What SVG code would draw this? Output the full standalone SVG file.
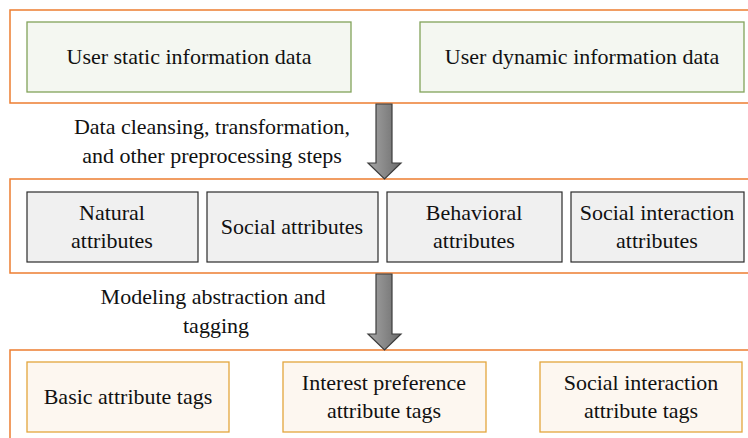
<svg xmlns="http://www.w3.org/2000/svg" width="748" height="438" viewBox="0 0 748 438">
  <style>
    .panel { fill: #ffffff; stroke: #ED7D31; stroke-width: 1.5; }
    .src { fill: #F4F7F1; stroke: #82A35A; stroke-width: 1.3; }
    .attr { fill: #F0F0F0; stroke: #2b2b2b; stroke-width: 1.2; }
    .tag { fill: #FDF7F0; stroke: #E3A63C; stroke-width: 1.3; }
    .arrow { fill: url(#shade); stroke: #3c3c3c; stroke-width: 1.2; }
  </style>
  <defs>
    <linearGradient id="shade" x1="0" y1="0" x2="1" y2="0">
      <stop offset="0" stop-color="#a6a6a6"/>
      <stop offset="1" stop-color="#6b6b6b"/>
    </linearGradient>
  </defs>

  <!-- stage panels -->
  <rect class="panel" x="10" y="10" width="760" height="93"/>
  <rect class="panel" x="10" y="179" width="760" height="94"/>
  <rect class="panel" x="10" y="350" width="760" height="110"/>

  <!-- input data -->
  <g id="static-data">
    <rect class="src" x="27" y="22" width="324" height="70"/>
    <text x="189" y="64" font-family="Liberation Serif" font-size="22" fill="#111" text-anchor="middle">User static information data</text>
  </g>
  <g id="dynamic-data">
    <rect class="src" x="420" y="22" width="324" height="70"/>
    <text x="582" y="64" font-family="Liberation Serif" font-size="22" fill="#111" text-anchor="middle">User dynamic information data</text>
  </g>

  <!-- attribute extraction -->
  <g id="natural">
    <rect class="attr" x="27" y="192" width="171" height="70"/>
    <text x="112" y="220" font-family="Liberation Serif" font-size="22" fill="#111" text-anchor="middle">Natural</text>
    <text x="112" y="248" font-family="Liberation Serif" font-size="22" fill="#111" text-anchor="middle">attributes</text>
  </g>
  <g id="social">
    <rect class="attr" x="207" y="192" width="171" height="70"/>
    <text x="292" y="234" font-family="Liberation Serif" font-size="22" fill="#111" text-anchor="middle">Social attributes</text>
  </g>
  <g id="behavioral">
    <rect class="attr" x="387" y="192" width="175" height="70"/>
    <text x="474" y="220" font-family="Liberation Serif" font-size="22" fill="#111" text-anchor="middle">Behavioral</text>
    <text x="474" y="248" font-family="Liberation Serif" font-size="22" fill="#111" text-anchor="middle">attributes</text>
  </g>
  <g id="social-interaction">
    <rect class="attr" x="571" y="192" width="173" height="70"/>
    <text x="657" y="220" font-family="Liberation Serif" font-size="22" fill="#111" text-anchor="middle">Social interaction</text>
    <text x="657" y="248" font-family="Liberation Serif" font-size="22" fill="#111" text-anchor="middle">attributes</text>
  </g>

  <!-- tag outputs -->
  <g id="basic-tags">
    <rect class="tag" x="27" y="362" width="202" height="70"/>
    <text x="128" y="404" font-family="Liberation Serif" font-size="22" fill="#111" text-anchor="middle">Basic attribute tags</text>
  </g>
  <g id="interest-tags">
    <rect class="tag" x="283" y="362" width="203" height="70"/>
    <text x="384" y="390" font-family="Liberation Serif" font-size="22" fill="#111" text-anchor="middle">Interest preference</text>
    <text x="384" y="418" font-family="Liberation Serif" font-size="22" fill="#111" text-anchor="middle">attribute tags</text>
  </g>
  <g id="interaction-tags">
    <rect class="tag" x="540" y="362" width="202" height="70"/>
    <text x="641" y="390" font-family="Liberation Serif" font-size="22" fill="#111" text-anchor="middle">Social interaction</text>
    <text x="641" y="418" font-family="Liberation Serif" font-size="22" fill="#111" text-anchor="middle">attribute tags</text>
  </g>

  <!-- flow arrows between stages -->
  <g id="connectors">
    <path class="arrow" d="M376,104 H392 V163 H401 L384.5,179 L368,163 H376 Z"/>
    <text x="212" y="134" font-family="Liberation Serif" font-size="22" fill="#111" text-anchor="middle">Data cleansing, transformation,</text>
    <text x="212" y="163" font-family="Liberation Serif" font-size="22" fill="#111" text-anchor="middle">and other preprocessing steps</text>
    <path class="arrow" d="M376,274 H392 V334 H401 L384.5,350 L368,334 H376 Z"/>
    <text x="213" y="304" font-family="Liberation Serif" font-size="22" fill="#111" text-anchor="middle">Modeling abstraction and</text>
    <text x="216" y="333" font-family="Liberation Serif" font-size="22" fill="#111" text-anchor="middle">tagging</text>
  </g>
</svg>
